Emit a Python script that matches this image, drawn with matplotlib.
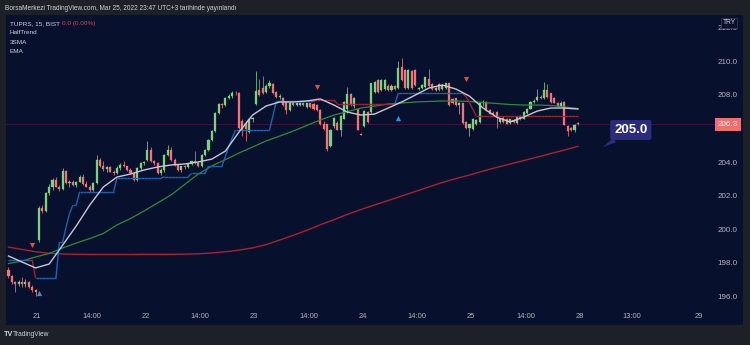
import numpy as np
import matplotlib
matplotlib.use("Agg")
import matplotlib.pyplot as plt
from matplotlib.collections import LineCollection
from matplotlib.transforms import blended_transform_factory

plt.rcParams['font.family'] = ['Liberation Sans', 'DejaVu Sans']

# ---------------- data: TUPRS 15-minute bars (bar 0 = Mar 21 10:00) ----------------
first_bar = -9

opens = [
    # Mar 18 (tail)
    197.65, 197.25, 196.95, 196.8, 196.95, 196.8, 196.95, 196.65, 196.45,
    # Mar 21
    199.4, 201.3, 201.15, 202.2, 202.6, 203.0, 202.6, 202.45, 203.55, 202.8, 202.9, 202.7, 202.9, 203.2, 202.75, 202.6,
    202.4, 202.8, 204.2, 203.8, 203.65, 203.75, 203.5, 203.4, 203.7, 203.9, 203.8, 203.6, 203.4, 203.0, 203.7, 204.0,
    # Mar 22
    204.2, 204.8, 204.1, 204.0, 203.4, 203.6, 204.5, 204.8, 204.2, 203.9, 203.6, 203.8, 203.75, 203.95, 204.1, 204.0,
    203.8, 204.5, 204.8, 205.35, 205.9, 207.0, 207.5, 207.45, 207.9, 208.0, 208.2, 208.15, 206.5, 206.4, 205.85, 206.6,
    # Mar 23
    207.5, 208.35, 208.5, 208.25, 208.6, 208.7, 208.25, 207.95, 207.9, 207.65, 207.15, 207.6, 207.45, 207.45, 207.6, 207.35,
    207.55, 207.5, 207.45, 207.15, 206.3, 206.3, 205.0, 206.2, 206.4, 206.0, 206.65, 207.2, 208.1, 207.4, 207.25, 205.75,
    # Mar 24
    206.2, 207.05, 207.05, 208.25, 208.95, 208.35, 208.4, 208.6, 208.35, 208.6, 208.45, 209.75, 209.55, 208.45, 209.5, 209.55,
    208.4, 208.45, 208.55, 209.0, 208.7, 208.35, 208.7, 208.4, 208.45, 208.75, 207.8, 207.85, 207.45, 207.55, 206.45, 206.1,
    # Mar 25
    206.05, 206.35, 206.45, 207.55, 207.65, 207.15, 207.0, 207.05, 206.45, 206.7, 206.65, 206.4, 206.55, 206.4, 206.8, 206.65,
    207.0, 207.25, 207.65, 207.75, 207.95, 207.85, 208.35, 208.15, 207.9, 207.6, 207.4, 207.65, 206.2, 206.1, 205.97, 206.4,
]
highs = [
    197.8, 197.35, 197.0, 197.05, 197.2, 197.1, 197.0, 196.75, 196.5,
    201.45, 201.5, 202.3, 202.75, 203.1, 203.2, 202.7, 203.7, 203.6, 203.0, 203.0, 202.95, 203.3, 203.35, 202.95, 202.7,
    202.9, 204.5, 204.3, 204.15, 203.85, 203.8, 203.6, 203.8, 204.0, 204.1, 203.85, 203.7, 203.5, 203.75, 204.05, 204.1,
    205.3, 204.95, 204.2, 204.05, 203.7, 204.55, 205.05, 204.95, 204.3, 203.95, 203.85, 203.9, 204.0, 204.15, 204.7, 204.1,
    204.55, 204.85, 205.45, 205.95, 207.05, 207.55, 207.6, 207.95, 208.1, 208.3, 208.3, 208.25, 206.6, 206.5, 206.7, 206.75,
    209.5, 209.0, 209.2, 208.7, 208.95, 208.75, 208.3, 208.1, 207.95, 207.7, 207.7, 207.65, 207.6, 207.65, 207.65, 207.6,
    207.6, 207.55, 207.5, 207.2, 206.5, 206.35, 206.05, 206.75, 206.5, 206.85, 207.7, 208.55, 208.2, 207.95, 207.3, 205.8,
    207.15, 207.1, 208.8, 208.9, 209.0, 209.0, 209.0, 208.7, 208.7, 208.65, 210.1, 210.25, 209.6, 209.6, 209.55, 209.6,
    208.55, 208.7, 209.15, 209.6, 208.75, 208.55, 208.75, 208.7, 208.8, 208.8, 207.85, 207.9, 207.65, 207.6, 206.5, 206.35,
    206.7, 206.6, 207.65, 207.75, 207.7, 207.25, 207.1, 207.1, 206.65, 206.8, 206.7, 206.65, 206.6, 206.8, 206.85, 207.1,
    207.3, 207.7, 207.8, 208.4, 208.05, 208.85, 208.7, 208.2, 207.95, 207.65, 207.7, 207.7, 206.25, 206.15, 206.3, 206.45,
]
lows = [
    197.15, 196.8, 196.3, 196.7, 196.6, 196.65, 196.55, 196.35, 196.1,
    199.3, 201.0, 201.1, 202.1, 202.4, 202.55, 202.35, 202.4, 202.75, 202.6, 202.65, 202.6, 202.85, 202.7, 202.55, 202.3,
    202.35, 202.75, 203.75, 203.55, 203.5, 203.45, 203.3, 203.35, 203.6, 203.75, 203.55, 203.35, 202.95, 202.95, 203.6, 203.9,
    204.1, 204.05, 203.9, 203.35, 203.3, 203.5, 204.4, 204.15, 203.85, 203.55, 203.5, 203.65, 203.7, 203.9, 203.95, 203.75,
    203.75, 204.4, 204.75, 205.3, 205.85, 206.9, 207.3, 207.4, 207.8, 207.9, 208.05, 206.05, 205.6, 205.3, 205.8, 206.45,
    207.45, 208.0, 208.1, 208.2, 208.5, 208.1, 207.9, 207.8, 207.4, 206.95, 207.1, 207.4, 207.4, 207.4, 207.4, 207.3,
    207.3, 207.15, 207.1, 206.25, 206.0, 204.75, 204.95, 206.1, 205.95, 205.6, 206.6, 207.0, 207.4, 207.3, 205.95, 205.65,
    206.15, 206.4, 207.0, 208.2, 208.2, 208.3, 208.35, 208.3, 208.3, 208.35, 208.4, 208.9, 208.4, 208.4, 208.4, 208.6,
    208.35, 208.4, 208.5, 208.55, 208.35, 208.3, 208.3, 208.35, 208.4, 207.4, 207.5, 207.4, 206.9, 206.35, 206.05, 205.6,
    206.0, 206.25, 206.4, 207.4, 207.1, 206.9, 206.8, 206.1, 206.4, 206.4, 206.3, 206.35, 206.4, 206.35, 206.55, 206.6,
    206.95, 207.2, 207.55, 207.7, 207.8, 207.8, 207.9, 207.6, 207.55, 207.35, 207.35, 206.25, 205.6, 205.9, 205.85, 206.25,
]
closes = [
    197.25, 196.95, 196.8, 196.95, 196.8, 196.95, 196.65, 196.45, 196.3,
    201.3, 201.15, 202.2, 202.6, 203.0, 202.6, 202.45, 203.55, 202.8, 202.9, 202.7, 202.9, 203.2, 202.75, 202.6, 202.4,
    202.8, 204.2, 203.8, 203.65, 203.75, 203.5, 203.4, 203.7, 203.9, 203.8, 203.6, 203.4, 203.0, 203.7, 204.0, 204.05,
    204.8, 204.1, 204.0, 203.4, 203.6, 204.5, 204.8, 204.2, 203.9, 203.6, 203.8, 203.75, 203.95, 204.1, 204.0, 203.8,
    204.5, 204.8, 205.35, 205.9, 207.0, 207.5, 207.45, 207.9, 208.0, 208.2, 208.15, 206.1, 206.0, 206.05, 206.6, 206.7,
    208.3, 208.05, 208.2, 208.6, 208.75, 208.15, 207.95, 208.0, 207.45, 207.15, 207.6, 207.45, 207.55, 207.6, 207.45, 207.55,
    207.35, 207.2, 207.15, 206.3, 206.05, 204.85, 206.0, 206.7, 206.0, 206.8, 207.65, 208.1, 207.45, 207.9, 206.0, 205.7,
    207.1, 206.45, 208.75, 208.85, 208.25, 208.95, 208.95, 208.35, 208.6, 208.4, 209.65, 208.95, 208.45, 209.55, 208.45, 208.65,
    208.5, 208.65, 209.1, 208.6, 208.4, 208.5, 208.35, 208.65, 208.75, 207.45, 207.55, 207.45, 207.6, 206.4, 206.1, 206.3,
    206.65, 206.55, 207.55, 207.65, 207.15, 206.95, 206.85, 206.75, 206.6, 206.45, 206.35, 206.6, 206.45, 206.75, 206.6, 207.05,
    207.25, 207.65, 207.7, 207.95, 207.9, 208.35, 207.95, 207.65, 207.6, 207.4, 207.6, 206.27, 205.9, 205.95, 206.27, 206.3,
]

# moving-average lines, one vertex every fourth bar
line_bars = list(range(-9, 160, 4))
ema_long = [199.0, 198.86, 198.72, 198.63, 198.59, 198.57, 198.56, 198.56, 198.56, 198.56, 198.57,
            198.57, 198.57, 198.58, 198.6, 198.65, 198.72, 198.82, 198.95, 199.15, 199.42, 199.7,
            200.0, 200.33, 200.63, 200.95, 201.24, 201.51, 201.77, 202.04, 202.31, 202.58, 202.85,
            203.08, 203.29, 203.53, 203.74, 203.95, 204.15, 204.36, 204.57, 204.78, 205.0]
ema_mid = [198.02, 198.17, 198.41, 198.62, 198.95, 199.24, 199.51, 199.81, 200.32, 200.7, 201.15,
           201.63, 202.11, 202.73, 203.35, 203.83, 204.21, 204.6, 204.96, 205.32, 205.61, 205.91,
           206.24, 206.57, 206.86, 207.07, 207.28, 207.4, 207.52, 207.58, 207.64, 207.67, 207.7,
           207.7, 207.67, 207.61, 207.55, 207.49, 207.46, 207.46, 207.43, 207.34, 207.25]
sma_fast = [198.47, 198.11, 197.76, 197.99, 199.12, 200.26, 201.51, 202.58, 203.17, 203.35, 203.59,
            203.77, 203.89, 203.95, 204.07, 204.24, 204.72, 205.85, 206.86, 207.4, 207.64, 207.64,
            207.7, 207.82, 207.46, 207.04, 206.86, 206.92, 207.28, 207.64, 208.05, 208.47, 208.65,
            208.41, 207.99, 207.28, 206.74, 206.45, 206.74, 207.1, 207.28, 207.28, 207.22]

# HalfTrend: bar where each level starts, the level, trend (0 = up, 1 = down)
ht_start = [-9, -2, -1, 0, 6, 8, 9, 10, 12, 23, 37, 45, 50, 55, 56, 57, 58, 69, 70, 82, 88, 106,
            126, 127, 128, 129]
ht_level = [198.23, 198.23, 197.14, 197.14, 199.3, 200.2, 201.0, 201.5, 202.3, 203.1, 203.19, 203.39,
            203.83, 204.4, 205.0, 205.5, 205.97, 206.8, 207.68, 207.76, 207.54, 208.15,
            207.95, 207.6, 207.2, 206.82]
ht_trend = [0, 1, 1, 0, 0, 0, 0, 0, 0, 0, 0, 0, 0, 0, 0, 0, 0, 0, 0, 1, 1, 0, 1, 1, 1, 1]

sell_bars = [-2, 82, 126]
sell_prices = [199.13, 208.53, 209.0]
buy_bars = [0, 106]
buy_prices = [196.25, 206.68]

last_price = 206.3
callout_value = 205.0

price_ticks = [196.0, 198.0, 200.0, 202.0, 204.0, 206.0, 208.0, 210.0, 212.0]
time_ticks = [-0.5, 15.5, 31.5, 47.5, 63.5, 79.5, 95.5, 111.5, 127.5, 143.5, 159.5, 175.0, 194.7]
time_labels = ["21", "14:00", "22", "14:00", "23", "14:00", "24", "14:00", "25", "14:00", "28", "13:00", "29"]

# ---------------- styling ----------------
BG_OUTER = '#1e2027'
BG_PANEL = '#07102c'
UP = '#7fd17f'
DOWN = '#f07676'
TEXT = '#b2b5be'

fig = plt.figure(figsize=(7.5, 3.45), dpi=100, facecolor=BG_OUTER)
ax = fig.add_axes([6 / 750, 20 / 345, 737 / 750, 310 / 345])
ax.set_facecolor(BG_PANEL)
for s in ax.spines.values():
    s.set_visible(False)
ax.set_xticks([])
ax.set_yticks([])
ax.set_xlim(-9.73, 207.7)
ax.set_ylim(194.36, 212.82)

o = np.array(opens)
h = np.array(highs)
l = np.array(lows)
c = np.array(closes)
bars = np.arange(first_bar, first_bar + len(c))
colors = np.where(c >= o, UP, DOWN)

# last-price line (faint)
ax.axhline(last_price, color='#3d1a30', lw=0.6, zorder=1)

# candles
ax.vlines(bars, l, h, colors=colors, lw=0.55, zorder=3)
body_h = np.maximum(np.abs(c - o), 0.03)
ax.bar(bars, body_h, bottom=np.minimum(o, c), width=0.62, color=colors,
       edgecolor=colors, linewidth=0.2, zorder=3)

# moving averages
ax.plot(line_bars, ema_long, color='#a8232e', lw=1.0, zorder=4)
ax.plot(line_bars, ema_mid, color='#2f8a3b', lw=0.9, zorder=4)
ax.plot(line_bars, sma_fast, color='#c6c8d6', lw=1.0, zorder=5)

# HalfTrend step line
ht_ends = ht_start[1:] + [int(bars[-1]) + 1]
ht_vals, ht_dirs = [], []
for s0, s1, lv, tr in zip(ht_start, ht_ends, ht_level, ht_trend):
    ht_vals += [lv] * (s1 - s0)
    ht_dirs += [tr] * (s1 - s0)
ht_x = np.arange(ht_start[0], ht_start[0] + len(ht_vals))
segs = [[(ht_x[i - 1], ht_vals[i - 1]), (ht_x[i], ht_vals[i])] for i in range(1, len(ht_x))]
seg_cols = ['#9c2531' if ht_dirs[i] else '#1f63b0' for i in range(1, len(ht_x))]
ax.add_collection(LineCollection(segs, colors=seg_cols, linewidths=1.0, zorder=4))

ax.scatter(sell_bars, sell_prices, marker='v', s=14, color='#f04848', linewidths=0, zorder=6)
ax.scatter(buy_bars, buy_prices, marker='^', s=14, color='#2196f3', linewidths=0, zorder=6)

# price scale labels
ty = blended_transform_factory(ax.transAxes, ax.transData)
for p in price_ticks:
    ax.text(0.9795, p, f"{p:.1f}", transform=ty, ha='center', va='center',
            fontsize=5.8, color=TEXT, zorder=7)
ax.text(0.9795, last_price, f"{last_price:.1f}", transform=ty, ha='center', va='center',
        fontsize=5.8, color='white', zorder=9,
        bbox=dict(boxstyle='square,pad=0.32', fc='#ef6f70', ec='none'))

# time scale labels
tx = blended_transform_factory(ax.transData, ax.transAxes)
for t, lab in zip(time_ticks, time_labels):
    ax.text(t, 0.026, lab, transform=tx, ha='center', va='center', fontsize=5.4, color=TEXT)

# callout pointing below the long EMA end
ax.annotate(f"{callout_value:.1f}", xy=(166.3, 204.94), xytext=(174.6, 205.97),
            ha='center', va='center', fontsize=9.5, fontweight='bold', color='white', zorder=10,
            bbox=dict(boxstyle='round,pad=0.3,rounding_size=0.15', fc='#2c2b7d', ec='none'),
            arrowprops=dict(arrowstyle='wedge,tail_width=0.4,shrink_factor=0.5',
                            fc='#2c2b7d', ec='none', shrinkA=0, shrinkB=0))

# currency badge
fig.text(729 / 750, 1 - 23 / 345, "TRY", ha='center', va='center', fontsize=4.8, color='#d1d4dc',
         zorder=10, bbox=dict(boxstyle='square,pad=0.25', fc=BG_PANEL, ec='#3b4050', lw=0.5))

# header and legend
fig.text(5 / 750, 1 - 8.3 / 345, "BorsaMerkezi TradingView.com, Mar 25, 2022 23:47 UTC+3 tarihinde yayınlandı",
         ha='left', va='center', fontsize=4.7, color='#d1d4dc')
fig.text(10 / 750, 1 - 24 / 345, "TUPRS, 15, BIST", ha='left', va='center', fontsize=4.6, color='#d1d4dc')
fig.text(61.5 / 750, 1 - 24 / 345, "0.0 (0.00%)", ha='left', va='center', fontsize=4.6, color='#e0464e')
fig.text(10 / 750, 1 - 32.7 / 345, "HalfTrend", ha='left', va='center', fontsize=4.6, color='#d1d4dc')
fig.text(10 / 750, 1 - 42.3 / 345, "3SMA", ha='left', va='center', fontsize=4.6, color='#d1d4dc')
fig.text(10 / 750, 1 - 51.7 / 345, "EMA", ha='left', va='center', fontsize=4.6, color='#d1d4dc')

# footer brand
fig.text(4 / 750, 1 - 335 / 345, "TV", ha='left', va='center', fontsize=5.2, fontweight='bold',
         color='#d1d4dc')
fig.text(13 / 750, 1 - 335 / 345, "TradingView", ha='left', va='center', fontsize=4.8, color='#d1d4dc')

fig.savefig("out.png", dpi=100, facecolor=BG_OUTER)
